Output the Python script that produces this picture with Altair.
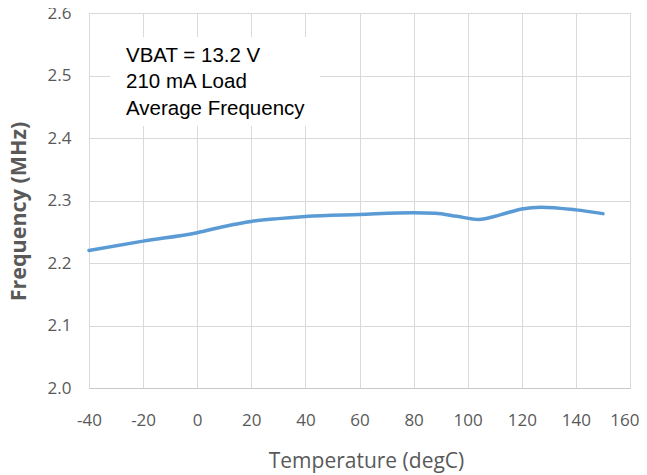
import altair as alt
import pandas as pd

temps = [-40, -20, 0, 10, 20, 30, 40, 60, 80, 88, 96, 104, 112, 120, 127, 140, 150]
freqs = [2.220, 2.235, 2.2485, 2.2585, 2.2665, 2.271, 2.2745, 2.2777, 2.2804, 2.2795,
         2.2747, 2.2697, 2.277, 2.2865, 2.2894, 2.285, 2.279]
x_ticks = [-40, -20, 0, 20, 40, 60, 80, 100, 120, 140, 160]
y_ticks = [2.0, 2.1, 2.2, 2.3, 2.4, 2.5, 2.6]
note_lines = ["VBAT = 13.2 V", "210 mA Load", "Average Frequency"]

df = pd.DataFrame({"t": temps, "f": freqs})

W, H = 541, 375

line = alt.Chart(df).mark_line(
    color="#5B9BD5", strokeWidth=3.5, interpolate="monotone", strokeCap="round"
).encode(
    x=alt.X("t:Q", scale=alt.Scale(domain=[-40, 160], nice=False, zero=False),
            axis=alt.Axis(values=x_ticks, title="Temperature (degC)",
                          labelExpr="datum.value < 0 ? '-' + abs(datum.value) : '' + datum.value",
                          grid=True, gridColor="#d9d9d9", domainColor="#c8c8c8",
                          ticks=False, tickSize=0, labelPadding=32, labelBaseline="middle",
                          labelAlign={"condition": {"test": "datum.value === 160", "value": "right"}, "value": "center"},
                          labelOffset={"condition": {"test": "datum.value === 160", "value": 9}, "value": 0},
                          labelFont="Open Sans", labelFontSize=17, labelColor="#595959",
                          titleFont="Open Sans", titleFontSize=21, titleFontWeight="normal",
                          titleColor="#595959", titleBaseline="alphabetic",
                          titleX=277, titleY=79, labelFlush=False)),
    y=alt.Y("f:Q", scale=alt.Scale(domain=[2.0, 2.6], nice=False, zero=False),
            axis=alt.Axis(values=y_ticks, title="Frequency (MHz)", format=".1f",
                          grid=True, gridColor="#d9d9d9", domain=False,
                          ticks=False, tickSize=0, labelPadding=18,
                          labelFont="Open Sans", labelFontSize=17, labelColor="#595959",
                          titleFont="Open Sans", titleFontSize=21.5, titleFontWeight="bold",
                          titleColor="#595959", titleBaseline="alphabetic",
                          titleX=-64, titleY=198, labelFlush=False)),
)

box = alt.Chart(pd.DataFrame({"a": [0]})).mark_rect(color="white").encode(
    x=alt.value(21), x2=alt.value(231), y=alt.value(24), y2=alt.value(113)
)

note_df = pd.DataFrame({"txt": note_lines, "i": [0, 1, 2]})
note = alt.Chart(note_df).mark_text(
    align="left", baseline="alphabetic", font="Liberation Sans", fontSize=20.5, color="#000000"
).encode(
    x=alt.value(37),
    y=alt.Y("i:Q", axis=None, scale=alt.Scale(domain=[0, 2], range=[48.7, 102], nice=False, zero=False)),
    text="txt:N",
)

chart = alt.layer(line, box, note).resolve_scale(y="independent").properties(
    width=W, height=H,
    autosize="none",
    padding={"left": 81, "top": 5, "right": 9, "bottom": 86},
).configure_view(strokeWidth=0).configure(background="white")

chart.save("out.html", embed_options={"renderer": "svg", "actions": False})
